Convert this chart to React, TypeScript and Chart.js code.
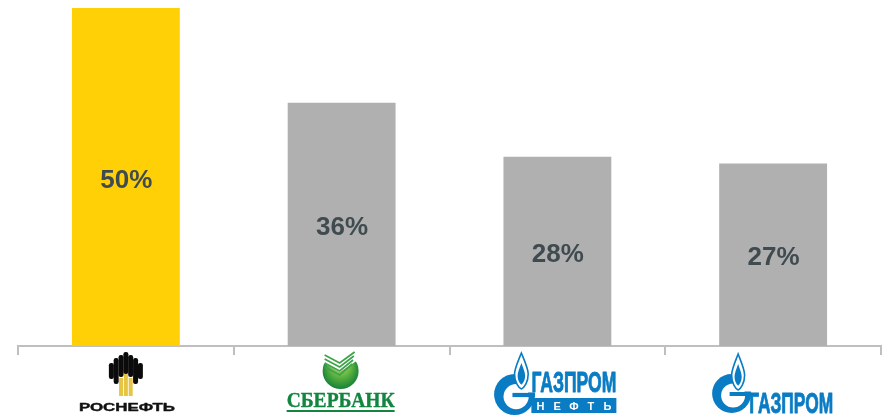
import React, { useEffect, useRef } from "react";
import { Chart, registerables } from "chart.js";

Chart.register(...registerables);

const categories = ["РОСНЕФТЬ", "СБЕРБАНК", "ГАЗПРОМ НЕФТЬ", "ГАЗПРОМ"];
const shares = [50, 36, 28, 27];
const barColors = ["#FFD006", "#B0B0B0", "#B0B0B0", "#B0B0B0"];
const BLUE = "#0A7CC4";
const GREEN = "#12853F";

type Ctx = CanvasRenderingContext2D;

function fitText(ctx: Ctx, text: string, x0: number, x1: number, base: number, font: string, color: string, weight = 0) {
  ctx.save();
  ctx.font = font;
  ctx.fillStyle = color;
  ctx.strokeStyle = color;
  ctx.textAlign = "left";
  ctx.textBaseline = "alphabetic";
  const w = ctx.measureText(text).width;
  ctx.translate(x0, base);
  ctx.scale((x1 - x0) / w, 1);
  ctx.fillText(text, 0, 0);
  if (weight > 0) {
    ctx.lineWidth = weight;
    ctx.lineJoin = "round";
    ctx.strokeText(text, 0, 0);
  }
  ctx.restore();
}

function rosneft(ctx: Ctx, cx: number) {
  const c = cx;
  const cols: [number, number, number][] = [
    [-14.5, 363, 379], [-9.7, 358, 384], [-4.8, 355, 377], [0, 352, 374], [4.8, 355, 377], [9.7, 358, 384], [14.5, 363, 379],
  ];
  ctx.fillStyle = "#0b0b0b";
  cols.forEach(([dx, t, b]) => {
    ctx.beginPath();
    ctx.roundRect(c + dx - 2.5, t, 5, b - t, 2.2);
    ctx.fill();
  });
  ctx.fillStyle = "#E6C545";
  ctx.fillRect(c - 6.8, 378, 4, 18);
  ctx.fillRect(c - 2, 374, 4, 22);
  ctx.fillRect(c + 2.8, 378, 4, 18);
  fitText(ctx, "РОСНЕФТЬ", cx - 47, cx + 49, 411, "bold 11.5px 'Liberation Sans'", "#111", 0.4);
}

function sberbank(ctx: Ctx, cx: number) {
  const x = cx - 1, y = 371, r = 18;
  const g = ctx.createRadialGradient(x, y - 10, 2, x, y, r + 2);
  g.addColorStop(0, "#CFE36F");
  g.addColorStop(0.55, "#55AE3F");
  g.addColorStop(1, "#0C7A35");
  ctx.save();
  ctx.fillStyle = g;
  ctx.beginPath();
  ctx.arc(x, y, r, 0, Math.PI * 2);
  ctx.fill();
  ctx.fillStyle = "#fff";
  ctx.beginPath();
  ctx.moveTo(x - r - 1, y - 9);
  ctx.lineTo(x - 1, y + 1);
  ctx.lineTo(x + r + 1, y - 12);
  ctx.lineTo(x + r + 1, y - r - 1);
  ctx.lineTo(x - r - 1, y - r - 1);
  ctx.closePath();
  ctx.fill();
  ctx.lineJoin = "miter";
  ctx.lineCap = "butt";
  ctx.strokeStyle = "#3FA34A";
  ctx.lineWidth = 1.8;
  [0, 4, 8, 12].forEach((d) => {
    ctx.beginPath();
    ctx.moveTo(x - 16, y - 16 + d);
    ctx.lineTo(x - 1, y - 8 + d);
    ctx.lineTo(x + 14 - d * 0.2, y - 19 + d);
    ctx.stroke();
  });
  ctx.restore();
  fitText(ctx, "СБЕРБАНК", cx - 55, cx + 53, 407, "bold 22px 'Liberation Serif'", GREEN, 0.4);
  ctx.fillStyle = GREEN;
  ctx.fillRect(cx - 55, 410, 108, 2);
}

function emblem(ctx: Ctx, fx: number, top: number, bottom: number, s: number) {
  const h = bottom - top;
  const w = 6.5 * s;
  const cx = fx - 6.5 * s;
  const cy = top + 39.5 * s;
  const R = 19.5 * s;
  // the G: a disc, hollowed, with its upper right taken away
  ctx.fillStyle = BLUE;
  ctx.beginPath();
  ctx.arc(cx, cy, R, 0, Math.PI * 2);
  ctx.fill();
  ctx.fillStyle = "#fff";
  ctx.beginPath();
  ctx.arc(cx + 1.5 * s, cy + 2 * s, 12 * s, 0, Math.PI * 2);
  ctx.fill();
  ctx.beginPath();
  ctx.moveTo(cx + 0.5 * s, cy - R - 1);
  ctx.lineTo(cx + 1.5 * s, cy - 10 * s);
  ctx.lineTo(cx + 10 * s, cy - 2 * s);
  ctx.lineTo(cx + R + 1, cy - 2 * s);
  ctx.lineTo(cx + R + 1, cy - R - 1);
  ctx.closePath();
  ctx.fill();
  ctx.fillStyle = BLUE;
  ctx.fillRect(cx - 2 * s, cy - 1.5 * s, 21.5 * s, 4 * s);
  // the flame above it
  const lens = (t: number, b: number, hw: number) => {
    const m = t + (b - t) * 0.58;
    ctx.beginPath();
    ctx.moveTo(fx, t);
    ctx.bezierCurveTo(fx + hw * 0.5, t + (m - t) * 0.4, fx + hw, m - (m - t) * 0.25, fx + hw, m);
    ctx.bezierCurveTo(fx + hw, m + (b - m) * 0.55, fx + hw * 0.4, b - 1, fx, b);
    ctx.bezierCurveTo(fx - hw * 0.4, b - 1, fx - hw, m + (b - m) * 0.55, fx - hw, m);
    ctx.bezierCurveTo(fx - hw, m - (m - t) * 0.25, fx - hw * 0.5, t + (m - t) * 0.4, fx, t);
    ctx.closePath();
  };
  ctx.strokeStyle = BLUE;
  ctx.lineWidth = 1.6;
  ctx.fillStyle = "#fff";
  lens(top, bottom, w);
  ctx.fill();
  ctx.stroke();
  ctx.fillStyle = BLUE;
  lens(top + h * 0.28, bottom - h * 0.12, w * 0.55);
  ctx.fill();
}

function gazpromNeft(ctx: Ctx, cx: number) {
  emblem(ctx, cx - 36, 353, 389, 1.05);
  fitText(ctx, "ГАЗПРОМ", cx - 26, cx + 59, 392, "bold 30px 'Liberation Sans'", BLUE, 0.9);
  ctx.fillStyle = BLUE;
  ctx.fillRect(cx - 26, 398, 85, 15);
  ctx.font = "bold 11px 'Liberation Sans'";
  ctx.fillStyle = "#fff";
  ctx.textAlign = "center";
  ctx.textBaseline = "alphabetic";
  "НЕФТЬ".split("").forEach((ch, i) => ctx.fillText(ch, cx - 17 + i * 16.8, 410));
}

function gazprom(ctx: Ctx, cx: number) {
  emblem(ctx, cx - 35, 354, 390, 1);
  fitText(ctx, "ГАЗПРОМ", cx - 24, cx + 60, 413, "bold 29px 'Liberation Sans'", BLUE, 0.9);
}

const logos = [rosneft, sberbank, gazpromNeft, gazprom];

const annotate = {
  id: "annotate",
  afterDatasetsDraw(chart: any) {
    const ctx: Ctx = chart.ctx;
    const meta = chart.getDatasetMeta(0);
    ctx.save();
    ctx.font = "bold 26px 'Liberation Sans'";
    ctx.fillStyle = "#404B50";
    ctx.textAlign = "center";
    ctx.textBaseline = "middle";
    meta.data.forEach((bar: any, i: number) => {
      ctx.fillText(shares[i] + "%", bar.x + 0.4, (bar.y + bar.base) / 2 + 3.5);
    });
    ctx.restore();
    categories.forEach((_, i) => {
      ctx.save();
      logos[i](ctx, chart.scales.x.getPixelForValue(i));
      ctx.restore();
    });
  },
};

export default function App() {
  const ref = useRef<HTMLCanvasElement>(null);
  useEffect(() => {
    const chart = new Chart(ref.current!, {
      type: "bar",
      data: {
        labels: categories,
        datasets: [{ data: shares, backgroundColor: barColors, barPercentage: 0.5, categoryPercentage: 1 }],
      },
      options: {
        animation: false,
        responsive: false,
        layout: { padding: { left: 18, right: 4, top: 8, bottom: 60 } },
        plugins: { legend: { display: false }, tooltip: { enabled: false } },
        scales: {
          x: {
            offset: true,
            ticks: { display: false },
            grid: { offset: true, drawOnChartArea: false, color: "#BFBFBF", tickLength: 9, lineWidth: 2 },
            border: { color: "#BFBFBF", width: 2 },
          },
          y: { display: false, min: 0, max: 50 },
        },
      },
      plugins: [annotate],
    });
    return () => chart.destroy();
  }, []);
  return (
    <canvas
      ref={ref}
      width={885}
      height={415}
      style={{ position: "fixed", left: 0, top: 0, width: 885, height: 415, display: "block" }}
    />
  );
}
